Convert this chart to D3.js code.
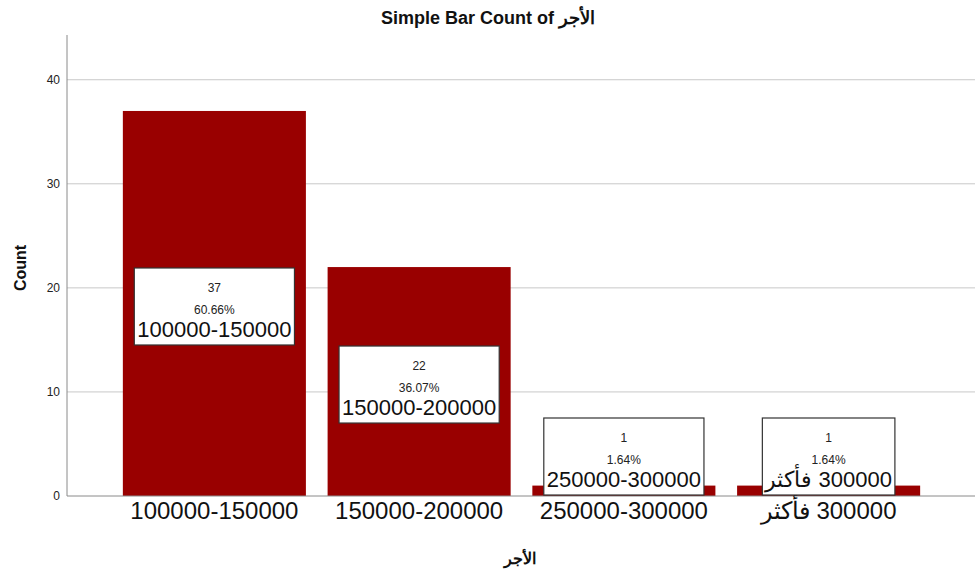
<!DOCTYPE html>
<html>
<head>
<meta charset="utf-8">
<script src="https://cdn.jsdelivr.net/npm/d3@7"></script>
<style>
  html, body { margin: 0; padding: 0; background: #fff; }
  svg { display: block; font-family: "Liberation Sans", Arial, sans-serif; }
</style>
</head>
<body>
<svg id="chart" width="975" height="572"></svg>
<script>
// Salary bands and their counts
const categories = ["100000-150000", "150000-200000", "250000-300000", "300000 فأكثر"];
const counts = [37, 22, 1, 1];
const percents = ["60.66%", "36.07%", "1.64%", "1.64%"];
const yTicks = [0, 10, 20, 30, 40];

const svg = d3.select("#chart");
const plot = { left: 67, right: 975, top: 35, bottom: 496 };
const hasArabic = s => /[\u0600-\u06FF]/.test(s);

const x = d3.scaleBand()
  .domain(categories)
  .range([112, 931])
  .paddingInner(0.106)
  .paddingOuter(0.053);

const y = d3.scaleLinear()
  .domain([0, 44.3])
  .range([plot.bottom, plot.top]);

// horizontal gridlines
svg.append("g")
  .selectAll("line")
  .data(yTicks.filter(d => d > 0))
  .join("line")
  .attr("x1", plot.left).attr("x2", plot.right)
  .attr("y1", d => y(d)).attr("y2", d => y(d))
  .attr("stroke", "#c8c8c8").attr("stroke-width", 1);

// y axis
const yAxis = svg.append("g")
  .attr("transform", `translate(${plot.left},0)`)
  .call(d3.axisLeft(y).tickValues(yTicks).tickSize(0).tickPadding(7));
yAxis.select(".domain").attr("stroke", "#8a8a8a").attr("d", `M0,${plot.top}V${plot.bottom}`);
yAxis.selectAll("text").attr("font-size", 12).attr("fill", "#222")
  .attr("font-family", "Liberation Sans, Arial, sans-serif");

// bars
const data = categories.map((c, i) => ({ c, n: counts[i], p: percents[i] }));
svg.append("g")
  .selectAll("rect")
  .data(data)
  .join("rect")
  .attr("x", d => x(d.c))
  .attr("y", d => y(d.n))
  .attr("width", x.bandwidth())
  .attr("height", d => y(0) - y(d.n))
  .attr("fill", "#990000");

// x axis
const xAxis = svg.append("g")
  .attr("transform", `translate(0,${plot.bottom})`)
  .call(d3.axisBottom(x).tickSize(0).tickPadding(10));
xAxis.select(".domain").attr("stroke", "#8a8a8a").attr("d", `M${plot.left},0H${plot.right}`);
xAxis.selectAll("text").attr("font-size", 24).attr("fill", "#111")
  .attr("font-family", "Liberation Sans, Arial, sans-serif")
  .attr("dy", "0.55em")
  .attr("direction", d => hasArabic(d) ? "rtl" : "ltr");

// data label boxes
const boxH = 77;
const labels = svg.append("g");
data.forEach(d => {
  const cx = x(d.c) + x.bandwidth() / 2;
  const mid = (y(d.n) + y(0)) / 2 + 3;
  const cy = Math.min(mid, plot.bottom - 1 - boxH / 2);
  const top = cy - boxH / 2;
  const g = labels.append("g");
  const rect = g.append("rect").attr("fill", "#fff").attr("stroke", "#333").attr("stroke-width", 1.2);
  g.append("text").attr("x", cx).attr("y", top + 24).attr("text-anchor", "middle")
    .attr("font-size", 12).attr("fill", "#222").text(d.n);
  g.append("text").attr("x", cx).attr("y", top + 46).attr("text-anchor", "middle")
    .attr("font-size", 12).attr("fill", "#222").text(d.p);
  const big = g.append("text").attr("x", cx).attr("y", top + 69).attr("text-anchor", "middle")
    .attr("direction", hasArabic(d.c) ? "rtl" : "ltr")
    .attr("font-size", 22).attr("fill", "#111").text(d.c);
  const w = big.node().getComputedTextLength() + 6;
  rect.attr("x", cx - w / 2).attr("y", top).attr("width", w).attr("height", boxH);
});

// titles
svg.append("text").attr("x", 488).attr("y", 24).attr("text-anchor", "middle")
  .attr("font-size", 18).attr("font-weight", "bold").attr("fill", "#111")
  .text("Simple Bar Count of الأجر");

svg.append("text")
  .attr("transform", `translate(26,268) rotate(-90)`)
  .attr("text-anchor", "middle")
  .attr("font-size", 16).attr("font-weight", "bold").attr("fill", "#111")
  .text("Count");

svg.append("text").attr("x", 520).attr("y", 564).attr("text-anchor", "middle")
  .attr("font-size", 16).attr("font-weight", "bold").attr("fill", "#111")
  .text("الأجر");
</script>
</body>
</html>
